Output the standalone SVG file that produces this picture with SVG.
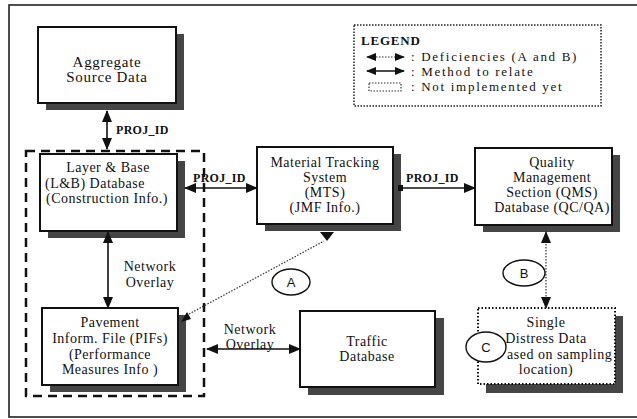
<svg xmlns="http://www.w3.org/2000/svg" width="637" height="419" viewBox="0 0 637 419">
<style>
text{font-family:"Liberation Serif","Times New Roman",serif;fill:#111}
.t{font-size:14px;text-anchor:middle;letter-spacing:0.5px}
.lbl{font-size:12px;font-weight:bold;letter-spacing:0.3px}
.lg{font-size:13px;letter-spacing:1.7px}
.box{fill:#fff;stroke:#111;stroke-width:2}
.dbox{fill:#fff;stroke:#111;stroke-width:2;stroke-dasharray:1.5 2}
.sh{fill:#454545}
.solid{stroke:#111;stroke-width:1.6;fill:none}
.dot{stroke:#333;stroke-width:1.2;fill:none;stroke-dasharray:1.5 1.5}
.circ{fill:#fff;stroke:#111;stroke-width:1.4}
.ct{font-family:"Liberation Sans",Arial,sans-serif;font-size:13px;text-anchor:middle}
</style>
<defs>
<marker id="ah" markerUnits="userSpaceOnUse" markerWidth="12" markerHeight="10" refX="11" refY="5" orient="auto-start-reverse">
<path d="M0,0 L12,5 L0,10 Z" fill="#111"/>
</marker>
<marker id="ahs" markerUnits="userSpaceOnUse" markerWidth="10" markerHeight="8" refX="9" refY="4" orient="auto-start-reverse">
<path d="M0,0 L10,4 L0,8 Z" fill="#111"/>
</marker>
</defs>
<rect x="0" y="0" width="637" height="419" fill="#fff"/>
<rect x="9" y="5" width="640" height="412" fill="none" stroke="#222" stroke-width="1.6"/>

<g id="legend">
<rect x="354" y="25" width="247" height="81" fill="none" stroke="#222" stroke-width="1.5" stroke-dasharray="1.5 1.5"/>
<text x="361" y="45" style="font-size:13px;font-weight:bold;letter-spacing:0.8px">LEGEND</text>
<line x1="367" y1="57" x2="404" y2="57" class="dot" marker-start="url(#ahs)" marker-end="url(#ahs)"/>
<line x1="367" y1="71" x2="404" y2="71" class="solid" marker-start="url(#ahs)" marker-end="url(#ahs)"/>
<rect x="369" y="83" width="32" height="8" fill="none" stroke="#333" stroke-width="1.2" stroke-dasharray="1.5 1.5"/>
<text x="411" y="61" class="lg">: Deficiencies (A and B)</text>
<text x="411" y="76" class="lg">: Method to relate</text>
<text x="411" y="91" class="lg">: Not implemented yet</text>
</g>

<g id="group-lb-pif">
<rect x="26" y="151" width="178" height="245" fill="none" stroke="#111" stroke-width="2.5" stroke-dasharray="9 6"/>
</g>

<g id="aggregate">
<rect x="46" y="34" width="138" height="76" class="sh"/>
<rect x="38" y="27" width="138" height="76" class="box"/>
<text x="107" y="67" class="t" style="font-size:15px;letter-spacing:0.7px">Aggregate</text>
<text x="107" y="82" class="t" style="font-size:15px;letter-spacing:0.7px">Source Data</text>
</g>

<g id="lb">
<rect x="48" y="161" width="137" height="77" class="sh"/>
<rect x="40" y="154" width="137" height="77" class="box"/>
<text x="108" y="172" class="t">Layer &amp; Base</text>
<text x="45" y="188" class="t" style="text-anchor:start">(L&amp;B) Database</text>
<text x="46" y="203" class="t" style="text-anchor:start">(Construction Info.)</text>
</g>

<g id="pifs">
<rect x="50" y="315" width="136" height="77" class="sh"/>
<rect x="42" y="308" width="136" height="77" class="box"/>
<text x="110" y="327" class="t">Pavement</text>
<text x="110" y="343" class="t">Inform. File (PIFs)</text>
<text x="110" y="359" class="t">(Performance</text>
<text x="110" y="374" class="t">Measures Info )</text>
</g>

<g id="mts">
<rect x="265" y="154" width="136" height="77" class="sh"/>
<rect x="257" y="147" width="136" height="77" class="box"/>
<text x="325" y="167" class="t">Material Tracking</text>
<text x="325" y="182" class="t">System</text>
<text x="325" y="197" class="t">(MTS)</text>
<text x="325" y="212" class="t">(JMF Info.)</text>
</g>

<g id="qms">
<rect x="483" y="155" width="137" height="77" class="sh"/>
<rect x="475" y="148" width="137" height="77" class="box"/>
<text x="552" y="167" class="t">Quality</text>
<text x="552" y="182" class="t">Management</text>
<text x="552" y="197" class="t">Section (QMS)</text>
<text x="552" y="212" class="t">Database (QC/QA)</text>
</g>

<g id="traffic">
<rect x="308" y="318" width="136" height="77" class="sh"/>
<rect x="300" y="311" width="135" height="76" class="box"/>
<text x="367" y="346" class="t">Traffic</text>
<text x="367" y="361" class="t">Database</text>
</g>

<g id="single">
<rect x="486" y="316" width="137" height="77" class="sh"/>
<rect x="478" y="308" width="137" height="76" class="dbox"/>
<text x="546" y="327" class="t">Single</text>
<text x="546" y="343" class="t">Distress Data</text>
<text x="507" y="359" class="t" style="text-anchor:start">ased on sampling</text>
<text x="546" y="374" class="t">location)</text>
</g>

<g id="connectors">
<line x1="107" y1="111" x2="107" y2="149" class="solid" marker-start="url(#ah)" marker-end="url(#ah)"/>
<text x="116" y="134" class="lbl">PROJ_ID</text>
<line x1="185" y1="188" x2="257" y2="188" class="solid" marker-start="url(#ah)" marker-end="url(#ah)"/>
<text x="193" y="182" class="lbl">PROJ_ID</text>
<rect x="398" y="185" width="5" height="6" fill="#111"/>
<line x1="401" y1="188" x2="475" y2="188" class="solid" marker-end="url(#ah)"/>
<text x="406" y="182" class="lbl">PROJ_ID</text>
<line x1="108" y1="232" x2="108" y2="308" class="solid" marker-start="url(#ah)" marker-end="url(#ah)"/>
<text x="150" y="271" class="t">Network</text>
<text x="150" y="287" class="t">Overlay</text>
<line x1="207" y1="349" x2="300" y2="349" class="solid" marker-start="url(#ah)" marker-end="url(#ah)"/>
<text x="250" y="334" class="t">Network</text>
<text x="250" y="349" class="t">Overlay</text>
<line x1="546" y1="232" x2="546" y2="308" class="dot" marker-start="url(#ah)" marker-end="url(#ah)"/>
<line x1="189" y1="314" x2="324" y2="241" class="dot"/>
<path d="M181,322 L187,312 L191,319 Z" fill="#111"/>
<path d="M320,232 L334,232 L327,241 Z" fill="#111"/>
</g>

<g id="markers-abc">
<ellipse cx="291" cy="282" rx="19" ry="13" class="circ"/>
<text x="291" y="287" class="ct">A</text>
<ellipse cx="524" cy="273" rx="21" ry="13" class="circ"/>
<text x="524" y="278" class="ct">B</text>
<ellipse cx="486" cy="347" rx="20" ry="15" class="circ"/>
<text x="486" y="352" class="ct">C</text>
</g>
</svg>
